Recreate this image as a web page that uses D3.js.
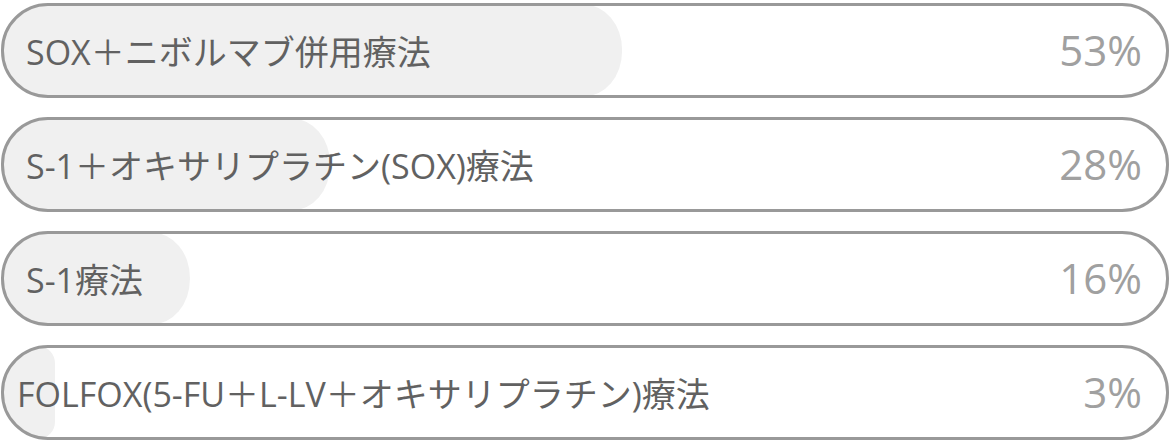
<!DOCTYPE html>
<html>
<head>
<meta charset="utf-8">
<script src="https://cdn.jsdelivr.net/npm/d3@7"></script>
<style>
  html, body { margin: 0; padding: 0; background: #fff; }
  svg { display: block; }
  .label { font-family: "Open Sans", "Noto Sans CJK JP", sans-serif; font-size: 34px; fill: #616161; }
  .pct { font-family: "Open Sans", "Noto Sans CJK JP", sans-serif; font-size: 42px; fill: #a0a0a0; }
</style>
</head>
<body>
<div id="chart"></div>
<script>
// choices and their share of answers (%)
var categories = [
    "SOX＋ニボルマブ併用療法",
    "S-1＋オキサリプラチン(SOX)療法",
    "S-1療法",
    "FOLFOX(5-FU＋L-LV＋オキサリプラチン)療法"
];
var percentages = [53, 28, 16, 3];

var width = 1170, height = 447;
var margin = {top: 3, right: 1, bottom: 7, left: 1};
var strokeW = 3;
var minFill = 55;       // fill bar never narrower than this

var svg = d3.select("#chart").append("svg")
    .attr("width", width)
    .attr("height", height);

var y = d3.scaleBand()
    .domain(categories)
    .range([margin.top, height - margin.bottom])
    .paddingInner(19 / 114)
    .paddingOuter(0);

var boxW = width - margin.left - margin.right;

// fill bar scale, 0..100% across the box
var x = d3.scaleLinear()
    .domain([0, 100])
    .range([margin.left + 2, margin.left + 2 + boxW]);

var defs = svg.append("defs");

var rows = svg.selectAll("g.row")
    .data(categories)
    .enter()
    .append("g")
    .attr("class", "row")
    .attr("transform", function(d){ return "translate(0," + y(d) + ")"; });

var bh = y.bandwidth();
var r = bh / 2 - 2;

// clip path so the fill follows the rounded box
rows.each(function(d, i){
    defs.append("clipPath")
        .attr("id", "clip" + i)
        .append("rect")
        .attr("x", margin.left + strokeW / 2)
        .attr("y", strokeW / 2)
        .attr("width", boxW - strokeW)
        .attr("height", bh - strokeW)
        .attr("rx", r)
        .attr("ry", r);
});

rows.append("rect")
    .attr("class", "fillbar")
    .attr("clip-path", function(d, i){ return "url(#clip" + i + ")"; })
    .attr("x", margin.left + strokeW / 2)
    .attr("y", strokeW / 2)
    .attr("width", function(d, i){
        return Math.max(x(percentages[i]), minFill) - margin.left - strokeW / 2;
    })
    .attr("height", bh - strokeW)
    .attr("rx", function(d, i){
        var w = Math.max(x(percentages[i]), minFill);
        return Math.min(38, w / 3.5);
    })
    .attr("ry", function(d, i){
        var w = Math.max(x(percentages[i]), minFill);
        return w > 100 ? 45 : 17;
    })
    .attr("fill", "#f0f0f0");

rows.append("rect")
    .attr("class", "box")
    .attr("x", margin.left + strokeW / 2)
    .attr("y", strokeW / 2)
    .attr("width", boxW - strokeW)
    .attr("height", bh - strokeW)
    .attr("rx", r)
    .attr("ry", r)
    .attr("fill", "none")
    .attr("stroke", "#999")
    .attr("stroke-width", strokeW);

var labels = rows.append("text")
    .attr("class", "label")
    .attr("x", 26)
    .attr("y", bh / 2 + 14)
    .text(function(d){ return d; });

// long labels get squeezed toward the left edge
labels.each(function(){
    var w = this.getComputedTextLength();
    if (w > 600) d3.select(this).attr("x", 17);
});

rows.append("text")
    .attr("class", "pct")
    .attr("x", width - 28)
    .attr("y", bh / 2 + 15)
    .attr("text-anchor", "end")
    .text(function(d, i){ return percentages[i] + "%"; });
</script>
</body>
</html>
